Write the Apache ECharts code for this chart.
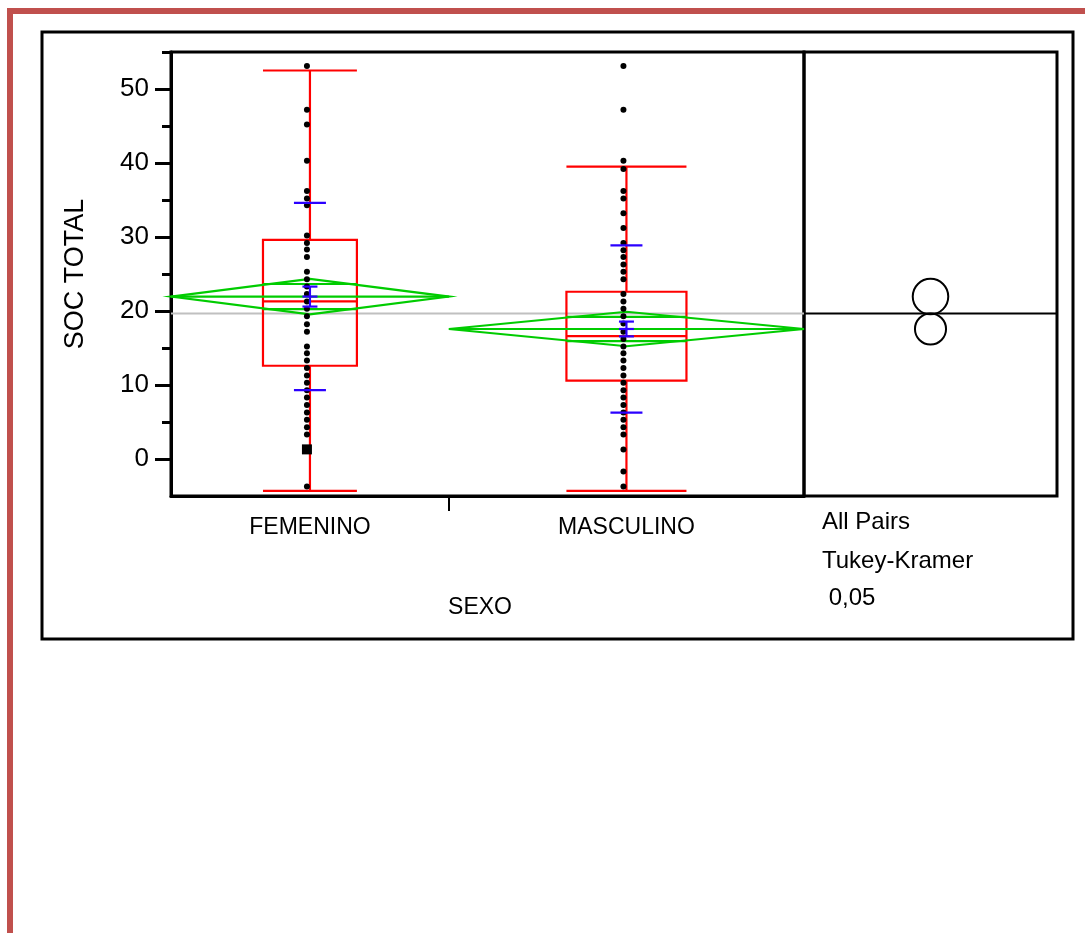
<!DOCTYPE html>
<html><head><meta charset="utf-8">
<script src="https://cdn.jsdelivr.net/npm/echarts@6/dist/echarts.min.js"></script>
<style>html,body{margin:0;padding:0;background:#fff}#c{width:1085px;height:933px}</style>
</head><body><div id="c"></div>
<script>
// ---- data ----
const categories = ['FEMENINO', 'MASCULINO'];
const groupWidths = [0.439, 0.561];          // relative widths of groups (JMP scales by group size)
const femeninoPoints = [53.1, 47.2, 45.2, 40.3, 36.2, 35.2, 34.3, 30.2, 29.2, 28.3, 27.3, 25.3, 24.3, 23.3, 22.3, 21.3, 20.3, 19.3, 18.2, 17.2, 15.2, 14.3, 13.3, 12.3, 11.3, 10.3, 9.3, 8.3, 7.3, 6.3, 5.3, 4.3, 3.3, -3.7];
const femeninoMarked = [1.3];
const masculinoPoints = [53.1, 47.2, 40.3, 39.2, 36.2, 35.2, 33.2, 31.2, 29.2, 28.2, 27.3, 26.3, 25.3, 24.3, 22.3, 21.3, 20.3, 19.3, 18.3, 17.2, 16.2, 15.2, 14.3, 13.3, 12.3, 11.3, 10.3, 9.3, 8.3, 7.3, 6.3, 5.3, 4.3, 3.3, 1.3, -1.7, -3.7];
const whiskerHigh = [52.5, 39.5];
const q3 = [29.6, 22.6];
const median = [21.3, 16.6];
const q1 = [12.6, 10.6];
const whiskerLow = [-4.3, -4.3];
const means = [21.95, 17.57];
const ciHalf = [2.4, 2.33];
const seHalf = [1.35, 1.0];
const stdDev = [12.65, 11.3];
const circleRadius = [2.4, 2.1];
const grandMean = 19.67;
const yTicks = [0, 10, 20, 30, 40, 50];
const yMinorTicks = [5, 15, 25, 35, 45, 55];
const compareLabels = ['All Pairs', 'Tukey-Kramer', ' 0,05'];

// ---- layout helpers ----
const FONT = "'Liberation Sans', Arial, sans-serif";
const boxFrac = 0.338;
const edges = [0];
groupWidths.forEach((w, i) => edges.push(edges[i] + w));
const centers = groupWidths.map((w, i) => edges[i] + w / 2);
const RED = '#FF0000', GREEN = '#00CC00', BLUE = '#2B00FF';

function boxRender(params, api) {
  const i = api.value(2);
  const c = centers[i], bw = groupWidths[i] * boxFrac;
  const tl = api.coord([c - bw / 2, q3[i]]);
  const br = api.coord([c + bw / 2, q1[i]]);
  const md = api.coord([c - bw / 2, median[i]]);
  const mdR = api.coord([c + bw / 2, median[i]]);
  const hi = api.coord([c, whiskerHigh[i]]);
  const lo = api.coord([c, whiskerLow[i]]);
  const q3c = api.coord([c, q3[i]]);
  const q1c = api.coord([c, q1[i]]);
  const st = { stroke: RED, lineWidth: 2.2, fill: null };
  return { type: 'group', children: [
    { type: 'rect', shape: { x: tl[0], y: tl[1], width: br[0] - tl[0], height: br[1] - tl[1] }, style: st },
    { type: 'line', shape: { x1: md[0], y1: md[1], x2: mdR[0], y2: mdR[1] }, style: st },
    { type: 'line', shape: { x1: hi[0], y1: hi[1], x2: q3c[0], y2: q3c[1] }, style: st },
    { type: 'line', shape: { x1: lo[0], y1: lo[1], x2: q1c[0], y2: q1c[1] }, style: st },
    { type: 'line', shape: { x1: tl[0], y1: hi[1], x2: br[0], y2: hi[1] }, style: st },
    { type: 'line', shape: { x1: tl[0], y1: lo[1], x2: br[0], y2: lo[1] }, style: st }
  ]};
}

function diamondRender(params, api) {
  const i = api.value(2);
  const c = centers[i], gw = groupWidths[i], bw = gw * boxFrac;
  const L = api.coord([edges[i], means[i]]);
  const R = api.coord([edges[i + 1], means[i]]);
  const T = api.coord([c, means[i] + ciHalf[i]]);
  const B = api.coord([c, means[i] - ciHalf[i]]);
  const o = ciHalf[i] / Math.SQRT2;
  const oT1 = api.coord([c - bw / 2, means[i] + o]), oT2 = api.coord([c + bw / 2, means[i] + o]);
  const oB1 = api.coord([c - bw / 2, means[i] - o]), oB2 = api.coord([c + bw / 2, means[i] - o]);
  const st = { stroke: GREEN, lineWidth: 2.2, fill: null };
  return { type: 'group', children: [
    { type: 'polygon', shape: { points: [L, T, R, B] }, style: st },
    { type: 'line', shape: { x1: L[0], y1: L[1], x2: R[0], y2: R[1] }, style: st },
    { type: 'line', shape: { x1: oT1[0], y1: oT1[1], x2: oT2[0], y2: oT2[1] }, style: st },
    { type: 'line', shape: { x1: oB1[0], y1: oB1[1], x2: oB2[0], y2: oB2[1] }, style: st }
  ]};
}

function blueRender(params, api) {
  const i = api.value(2);
  const c = centers[i];
  const m = api.coord([c, means[i]]);
  const sdH = api.coord([c, means[i] + stdDev[i]]);
  const sdL = api.coord([c, means[i] - stdDev[i]]);
  const seH = api.coord([c, means[i] + seHalf[i]]);
  const seL = api.coord([c, means[i] - seHalf[i]]);
  const st = { stroke: BLUE, lineWidth: 2.2 };
  const h = (p, w) => ({ type: 'line', shape: { x1: p[0] - w / 2, y1: p[1], x2: p[0] + w / 2, y2: p[1] }, style: st });
  return { type: 'group', children: [
    h(sdH, 32), h(sdL, 32), h(seH, 15), h(seL, 15), h(m, 15),
    { type: 'line', shape: { x1: seH[0], y1: seH[1], x2: seL[0], y2: seL[1] }, style: st }
  ]};
}

function circleRender(params, api) {
  const i = api.value(2);
  const p = api.coord([0.5, means[i]]);
  const r = api.size([0, circleRadius[i]])[1];
  return { type: 'circle', shape: { cx: p[0], cy: p[1], r: r }, style: { stroke: '#000', lineWidth: 2, fill: null } };
}

const groupData = categories.map((n, i) => [centers[i], means[i], i]);

const chart = echarts.init(document.getElementById('c'), null, { renderer: 'canvas' });
chart.setOption({
  animation: false,
  backgroundColor: '#fff',
  textStyle: { fontFamily: FONT },
  grid: [
    { left: 171, right: 281, top: 52, bottom: 437, show: true, borderColor: '#000', borderWidth: 3, containLabel: false },
    { left: 804, right: 28, top: 52, bottom: 437, show: true, borderColor: '#000', borderWidth: 3, containLabel: false }
  ],
  xAxis: [
    { gridIndex: 0, type: 'value', min: 0, max: 1,
      axisLine: { show: true, onZero: false, lineStyle: { color: '#000', width: 3 } },
      axisTick: { show: true, length: 15, customValues: [edges[1]], lineStyle: { color: '#000', width: 2 } },
      axisLabel: { customValues: centers, margin: 20, fontSize: 23, color: '#000', fontFamily: FONT,
        formatter: v => { const k = centers.findIndex(c => Math.abs(c - v) < 1e-6); return k >= 0 ? categories[k] : ''; } },
      splitLine: { show: false },
      name: 'SEXO', nameLocation: 'middle', nameGap: 100,
      nameTextStyle: { fontSize: 23, color: '#000', fontFamily: FONT, padding: [0, 15, 0, 0] } },
    { gridIndex: 1, type: 'value', min: 0, max: 1, show: false }
  ],
  yAxis: [
    { gridIndex: 0, type: 'value', min: -5, max: 55,
      axisLine: { show: true, onZero: false, lineStyle: { color: '#000', width: 3 } },
      axisTick: { show: true, inside: false, length: 16, customValues: yTicks, lineStyle: { color: '#000', width: 3 } },
      axisLabel: { customValues: yTicks, fontSize: 26, color: '#000', margin: 22, fontFamily: FONT },
      splitLine: { show: false },
      name: 'SOC TOTAL', nameLocation: 'middle', nameRotate: 90, nameGap: 82,
      nameTextStyle: { fontSize: 27, color: '#000', fontFamily: FONT } },
    { gridIndex: 0, type: 'value', min: -5, max: 55, position: 'left',
      axisLine: { show: false, onZero: false },
      axisTick: { show: true, inside: false, length: 9, customValues: yMinorTicks, lineStyle: { color: '#000', width: 3 } },
      axisLabel: { show: false }, splitLine: { show: false } },
    { gridIndex: 1, type: 'value', min: -5, max: 55, show: false }
  ],
  graphic: [
    { type: 'rect', shape: { x: 7, y: 8, width: 1078, height: 6 }, style: { fill: '#C0504D' }, z: 10 },
    { type: 'rect', shape: { x: 7, y: 8, width: 6, height: 925 }, style: { fill: '#C0504D' }, z: 10 },
    { type: 'rect', shape: { x: 42, y: 32, width: 1031, height: 607 }, style: { stroke: '#000', lineWidth: 3, fill: null }, z: 10 },
    ...compareLabels.map((t, k) => ({ type: 'text', x: 822, y: [522, 561, 598][k],
      style: { text: t, fontSize: 24, fontFamily: FONT, fill: '#000', textVerticalAlign: 'middle', textAlign: 'left' }, z: 10 }))
  ],
  series: [
    { type: 'line', xAxisIndex: 0, yAxisIndex: 0, data: [[0, grandMean], [1, grandMean]], symbol: 'none',
      lineStyle: { color: '#C0C0C0', width: 2 }, z: 1, silent: true },
    { type: 'line', xAxisIndex: 1, yAxisIndex: 2, data: [[0, grandMean], [1, grandMean]], symbol: 'none',
      lineStyle: { color: '#000', width: 2 }, z: 1, silent: true },
    { type: 'custom', xAxisIndex: 0, yAxisIndex: 0, data: groupData, renderItem: boxRender, encode: { x: 0, y: 1 }, z: 2 },
    { type: 'custom', xAxisIndex: 0, yAxisIndex: 0, data: groupData, renderItem: diamondRender, encode: { x: 0, y: 1 }, z: 3 },
    { type: 'scatter', xAxisIndex: 0, yAxisIndex: 0, data: femeninoPoints.map(v => [centers[0], v]),
      symbol: 'circle', symbolSize: 6, symbolOffset: [-3, 0], itemStyle: { color: '#000', opacity: 1 }, z: 4 },
    { type: 'scatter', xAxisIndex: 0, yAxisIndex: 0, data: femeninoMarked.map(v => [centers[0], v]),
      symbol: 'rect', symbolSize: 10, symbolOffset: [-3, 0], itemStyle: { color: '#000', opacity: 1 }, z: 4 },
    { type: 'scatter', xAxisIndex: 0, yAxisIndex: 0, data: masculinoPoints.map(v => [centers[1], v]),
      symbol: 'circle', symbolSize: 6, symbolOffset: [-3, 0], itemStyle: { color: '#000', opacity: 1 }, z: 4 },
    { type: 'custom', xAxisIndex: 0, yAxisIndex: 0, data: groupData, renderItem: blueRender, encode: { x: 0, y: 1 }, z: 5 },
    { type: 'custom', xAxisIndex: 1, yAxisIndex: 2, data: groupData.map(d => [0.5, d[1], d[2]]), renderItem: circleRender, encode: { x: 0, y: 1 }, z: 5 }
  ]
});
</script>
</body></html>
